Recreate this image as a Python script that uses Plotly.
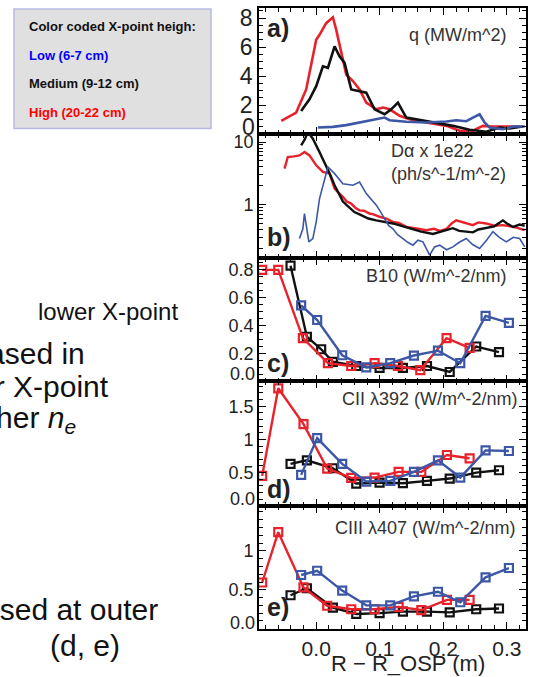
import plotly.graph_objects as go

# ---------------- data ----------------
# Panel a: q (MW/m^2)
a_red_x = [-0.055, -0.0315, -0.0158, 0.0, 0.0052, 0.0157, 0.0262, 0.0315, 0.042, 0.0472, 0.0577, 0.0682,
           0.0787, 0.0945, 0.105, 0.1155, 0.1312, 0.147, 0.1732, 0.205, 0.2255, 0.2465, 0.2622, 0.278, 0.32]
a_red_y = [0.92, 1.49, 3.08, 6.51, 6.85, 7.65, 8.06, 7.19, 5.14, 4.11, 3.66, 3.08,
           2.17, 1.71, 1.83, 1.71, 1.26, 1.03, 0.80, 0.57, 0.23, 0.23, 0.57, 0.53, 0.53]
a_blk_x = [-0.0237, -0.0106, 0.0, 0.0105, 0.0184, 0.0289, 0.0367, 0.0446, 0.0551, 0.0682, 0.0787, 0.0918,
           0.1075, 0.118, 0.1285, 0.1417, 0.1627, 0.189, 0.215, 0.2413, 0.2675, 0.2885, 0.304, 0.325]
a_blk_y = [1.60, 2.40, 3.31, 4.68, 4.57, 6.05, 5.37, 4.91, 3.08, 2.97, 2.86, 1.71,
           1.37, 1.71, 2.17, 1.14, 0.98, 0.75, 0.57, 0.30, 0.16, 0.46, 0.39, 0.53]
a_blu_x = [0.0026, 0.0262, 0.0472, 0.0682, 0.0892, 0.1075, 0.1155, 0.1417, 0.1732, 0.205, 0.2202, 0.236,
           0.2465, 0.257, 0.2648, 0.2727, 0.2937, 0.3097, 0.328]
a_blu_y = [0.46, 0.50, 0.62, 0.80, 0.96, 1.14, 0.96, 0.85, 0.80, 0.87, 0.96, 0.89,
           1.14, 1.37, 0.80, 0.46, 0.34, 0.53, 0.53]

# Panel b: D-alpha x 1e22 (ph/s^-1/m^-2)
b_red_x = [-0.0499, -0.0447, -0.035, -0.0263, -0.0185, -0.0106, 0.0, 0.0105, 0.021, 0.0289, 0.035, 0.042,
           0.048, 0.0551, 0.062, 0.0682, 0.075, 0.084, 0.090, 0.0997, 0.110, 0.1207, 0.130, 0.1417,
           0.155, 0.1732, 0.185, 0.195, 0.205, 0.213, 0.2202, 0.230, 0.2465, 0.255, 0.2675, 0.280,
           0.2937, 0.305, 0.315, 0.328]
b_red_y = [3.76, 5.77, 5.9, 6.12, 6.92, 6.12, 4.25, 3.33, 3.13, 1.80, 1.55, 1.33,
           1.12, 1.04, 0.88, 0.81, 0.80, 0.72, 0.70, 0.64, 0.60, 0.53, 0.51, 0.44,
           0.42, 0.39, 0.41, 0.38, 0.41, 0.50, 0.56, 0.52, 0.47, 0.52, 0.50, 0.46,
           0.47, 0.45, 0.43, 0.39]
b_blk_x = [-0.0237, -0.018, -0.0132, -0.0053, 0.0052, 0.0157, 0.022, 0.0289, 0.035, 0.042, 0.048, 0.0551,
           0.060, 0.0682, 0.075, 0.082, 0.0945, 0.105, 0.1207, 0.130, 0.1522, 0.165, 0.1837, 0.195,
           0.215, 0.225, 0.2465, 0.255, 0.2675, 0.280, 0.2937, 0.300, 0.3097, 0.320, 0.328]
b_blk_y = [8.85, 11.0, 14.5, 11.3, 6.9, 4.25, 3.0, 2.04, 1.5, 1.12, 0.98, 0.83,
           0.76, 0.70, 0.64, 0.60, 0.56, 0.54, 0.50, 0.47, 0.40, 0.37, 0.34, 0.37,
           0.42, 0.38, 0.36, 0.40, 0.42, 0.45, 0.56, 0.50, 0.44, 0.48, 0.46]
b_blu_x = [-0.0263, -0.021, -0.0185, -0.0148, -0.0116, -0.0053, 0.0, 0.0052, 0.0131, 0.0184, 0.0289,
           0.042, 0.0577, 0.0682, 0.0787, 0.0945, 0.1, 0.1075, 0.114, 0.1207, 0.128, 0.1364, 0.144,
           0.1522, 0.160, 0.1679, 0.1784, 0.186, 0.1942, 0.205, 0.215, 0.225, 0.236, 0.246, 0.257,
           0.268, 0.278, 0.288, 0.299, 0.310, 0.32, 0.328]
b_blu_y = [0.287, 0.41, 0.72, 0.37, 0.254, 0.287, 0.53, 1.25, 2.60, 3.99, 3.13,
           2.16, 2.04, 2.30, 1.50, 0.98, 0.80, 0.60, 0.46, 0.41, 0.33, 0.287, 0.25,
           0.225, 0.27, 0.254, 0.156, 0.21, 0.225, 0.19, 0.211, 0.25, 0.287, 0.23, 0.199,
           0.27, 0.37, 0.30, 0.254, 0.30, 0.287, 0.211]

# Panel c: B10 (W/m^-2/nm)
c_red_x = [-0.085, -0.0597, -0.021, 0.0184, 0.0551, 0.0918, 0.1285, 0.1637, 0.205, 0.2413]
c_red_y = [0.80, 0.80, 0.31, 0.13, 0.11, 0.13, 0.11, 0.08, 0.31, 0.24]
c_blk_x = [-0.0404, -0.0147, 0.0078, 0.0262, 0.063, 0.0997, 0.1364, 0.1742, 0.21, 0.2517, 0.2875]
c_blk_y = [0.83, 0.32, 0.23, 0.14, 0.11, 0.096, 0.096, 0.11, 0.067, 0.25, 0.21]
c_blu_x = [-0.0237, 0.0015, 0.0409, 0.0787, 0.1164, 0.1537, 0.1915, 0.2266, 0.2664, 0.3031]
c_blu_y = [0.545, 0.44, 0.187, 0.10, 0.13, 0.185, 0.22, 0.13, 0.47, 0.42]

# Panel d: CII 392 (W/m^-2/nm)
d_red_x = [-0.085, -0.0597, -0.02, 0.0173, 0.0551, 0.0918, 0.1296, 0.1653, 0.2056, 0.2413]
d_red_y = [0.45, 1.77, 1.23, 0.56, 0.42, 0.425, 0.51, 0.51, 0.765, 0.715]
d_blk_x = [-0.0404, -0.0147, 0.0262, 0.063, 0.0997, 0.1364, 0.1742, 0.21, 0.2517, 0.2875]
d_blk_y = [0.63, 0.685, 0.565, 0.335, 0.35, 0.34, 0.375, 0.41, 0.50, 0.535]
d_blu_x = [-0.0237, 0.0015, 0.0409, 0.0787, 0.1164, 0.1537, 0.1915, 0.2266, 0.2664, 0.3031]
d_blu_y = [0.465, 1.02, 0.63, 0.365, 0.375, 0.51, 0.685, 0.425, 0.835, 0.825]

# Panel e: CIII 407 (W/m^-2/nm)
e_red_x = [-0.085, -0.0597, -0.02, 0.0173, 0.0551, 0.0918, 0.1296, 0.1653, 0.2056, 0.2413]
e_red_y = [0.594, 1.24, 0.53, 0.295, 0.25, 0.25, 0.28, 0.24, 0.37, 0.37]
e_blk_x = [-0.0404, -0.0147, 0.0262, 0.063, 0.0997, 0.1364, 0.1742, 0.21, 0.2517, 0.2875]
e_blk_y = [0.43, 0.52, 0.27, 0.19, 0.20, 0.22, 0.22, 0.21, 0.25, 0.26]
e_blu_x = [-0.0237, 0.0015, 0.0409, 0.0787, 0.1164, 0.1537, 0.1915, 0.2266, 0.2664, 0.3031]
e_blu_y = [0.69, 0.745, 0.49, 0.30, 0.30, 0.415, 0.475, 0.34, 0.66, 0.78]

x_ticks = [0.0, 0.1, 0.2, 0.3]
panel_titles = ["q (MW/m^2)", "Dα x 1e22<br>(ph/s^-1/m^-2)", "B10 (W/m^-2/nm)",
                "CII λ392 (W/m^-2/nm)", "CIII λ407 (W/m^-2/nm)"]
panel_letters = ["a)", "b)", "c)", "d)", "e)"]

# ---------------- style ----------------
RED = "#e8222b"
BLUE = "#3b57a6"
BLACK = "#111111"
FONT = "Liberation Sans, Arial, Helvetica, sans-serif"
W, H = 535, 677

def py(pix):
    return 1 - pix / H

x_dom = [259 / W, 526 / W]
panel_pix = [(5, 131.7), (131.7, 256), (256, 380), (380, 505), (505, 628.5)]

fig = go.Figure()

def line(xs, ys, color, panel, width=2.4):
    fig.add_trace(go.Scatter(x=xs, y=ys, mode="lines", line=dict(color=color, width=width),
                             xaxis="x" if panel == 1 else f"x{panel}",
                             yaxis="y" if panel == 1 else f"y{panel}",
                             showlegend=False, hoverinfo="skip"))

def marks(xs, ys, color, panel):
    fig.add_trace(go.Scatter(x=xs, y=ys, mode="lines+markers",
                             line=dict(color=color, width=2.4),
                             marker=dict(symbol="square-open", size=8, color=color,
                                         line=dict(width=2.2, color=color)),
                             xaxis=f"x{panel}", yaxis=f"y{panel}",
                             showlegend=False, hoverinfo="skip"))

line(a_red_x, a_red_y, RED, 1, 2.6)
line(a_blk_x, a_blk_y, BLACK, 1, 2.6)
line(a_blu_x, a_blu_y, BLUE, 1, 2.6)
line(b_red_x, b_red_y, RED, 2, 2.4)
line(b_blk_x, b_blk_y, BLACK, 2, 2.4)
line(b_blu_x, b_blu_y, BLUE, 2, 1.6)
for p, (rx, ry, kx, ky, bx, by) in zip([3, 4, 5], [
        (c_red_x, c_red_y, c_blk_x, c_blk_y, c_blu_x, c_blu_y),
        (d_red_x, d_red_y, d_blk_x, d_blk_y, d_blu_x, d_blu_y),
        (e_red_x, e_red_y, e_blk_x, e_blk_y, e_blu_x, e_blu_y)]):
    marks(kx, ky, BLACK, p)
    marks(rx, ry, RED, p)
    marks(bx, by, BLUE, p)

layout = dict(width=W, height=H, margin=dict(l=0, r=0, t=0, b=0),
              paper_bgcolor="white", plot_bgcolor="white",
              font=dict(family=FONT, color="#222222"))

y_specs = [
    dict(range=[0, 8.7], tickvals=[2, 4, 6, 8], minor=dict(dtick=0.5, tick0=0), size=23, zero="0", zshift=7),
    dict(type="log", range=[-0.851, 1.127], tickvals=[1, 10], ticktext=["1", "10"],
         minor=dict(tickvals=[0.2, 0.3, 0.4, 0.5, 0.6, 0.7, 0.8, 0.9, 2, 3, 4, 5, 6, 7, 8, 9]), size=18, zero=None),
    dict(range=[0, 0.886], tickvals=[0.2, 0.4, 0.6, 0.8], minor=dict(dtick=0.05, tick0=0), size=18, zero="0.0", zshift=7),
    dict(range=[0, 1.875], tickvals=[0.5, 1.0, 1.5], minor=dict(dtick=0.1, tick0=0), size=18, zero="0.0", zshift=7),
    dict(range=[0, 1.58], tickvals=[0.5, 1.0], minor=dict(dtick=0.1, tick0=0), size=18, zero="0.0", zshift=6),
]

annotations = []
for i in range(5):
    n = i + 1
    top, bot = panel_pix[i]
    xa = dict(domain=x_dom, range=[-0.09, 0.33], anchor="y" if n == 1 else f"y{n}",
              showline=True, linecolor="black", linewidth=1.6, mirror="allticks",
              ticks="inside", ticklen=7, tickwidth=1.2, tickcolor="black",
              tickvals=x_ticks, tickformat=".1f",
              minor=dict(ticks="inside", ticklen=4, dtick=0.02, tick0=0, tickcolor="black", tickwidth=1),
              showgrid=False, zeroline=False, showticklabels=(n == 5),
              tickfont=dict(size=21, family=FONT, color="#222222"))
    if n > 1:
        xa["matches"] = "x"
    spec = y_specs[i]
    ya = dict(domain=[py(bot), py(top)], anchor="x" if n == 1 else f"x{n}",
              showline=True, linecolor="black", linewidth=1.6, mirror="allticks",
              ticks="inside", ticklen=7, tickwidth=1.2, tickcolor="black",
              showgrid=False, zeroline=False, range=spec["range"],
              tickvals=spec["tickvals"],
              tickfont=dict(size=spec["size"], family=FONT, color="#222222"))
    if "type" in spec:
        ya["type"] = "log"
    if "ticktext" in spec:
        ya["ticktext"] = spec["ticktext"]
    mn = dict(ticks="inside", ticklen=4, tickcolor="black", tickwidth=1)
    mn.update(spec["minor"])
    ya["minor"] = mn
    layout["xaxis" if n == 1 else f"xaxis{n}"] = xa
    layout["yaxis" if n == 1 else f"yaxis{n}"] = ya
    if spec["zero"]:
        annotations.append(dict(text=spec["zero"], xref="paper", yref="paper", x=257 / W,
                                y=py(bot - spec["zshift"]), xanchor="right", yanchor="middle", showarrow=False,
                                font=dict(size=spec["size"], family=FONT, color="#222222")))

# panel letters
letter_y = [25, 235, 362, 488, 607]
for lt, yy in zip(panel_letters, letter_y):
    annotations.append(dict(text=f"<b>{lt}</b>", xref="paper", yref="paper", x=265 / W, y=py(yy),
                            xanchor="left", yanchor="middle", showarrow=False,
                            font=dict(size=25, family=FONT, color="#222222")))

# panel titles
title_pos = [(508, 32), (508, 160), (508, 274), (519, 398), (517, 527)]
for t, (xx, yy) in zip(panel_titles, title_pos):
    annotations.append(dict(text=t, xref="paper", yref="paper", x=xx / W, y=py(yy),
                            xanchor="right", yanchor="middle", align="left", showarrow=False,
                            font=dict(size=18, family=FONT, color="#333333")))

# x axis title
annotations.append(dict(text="R − R_OSP (m)", xref="paper", yref="paper", x=408 / W, y=py(663),
                        xanchor="center", yanchor="middle", showarrow=False,
                        font=dict(size=22, family=FONT, color="#222222")))

# legend box text
leg = [("Color coded X-point heigh:", "#111111", 24), ("Low (6-7 cm)", "#0000ff", 53),
       ("Medium (9-12 cm)", "#111111", 81), ("High (20-22 cm)", "#ff0000", 110)]
for t, c, yy in leg:
    annotations.append(dict(text=f"<b>{t}</b>", xref="paper", yref="paper", x=27 / W, y=py(yy),
                            xanchor="left", yanchor="middle", showarrow=False,
                            font=dict(size=13, family=FONT, color=c)))

# left-hand slide text (cut off at the page edge, as in the reference)
side = [("lower X-point", 180, 310, 24), ("increased in", 87, 352, 30), ("lower X-point", 111, 385, 30),
        ("higher <i>n</i><sub><i>e</i></sub>", 78, 418, 30), ("increased at outer", 160, 609, 30),
        ("(d, e)", 122, 645, 30)]
for t, xr, yy, fs in side:
    annotations.append(dict(text=t, xref="paper", yref="paper", x=xr / W, y=py(yy),
                            xanchor="right", yanchor="middle", showarrow=False,
                            font=dict(size=fs, family=FONT, color="#111111")))

layout["annotations"] = annotations
layout["shapes"] = [dict(type="rect", xref="paper", yref="paper", x0=14 / W, x1=211 / W,
                         y0=py(126), y1=py(6), fillcolor="#e0e0e0",
                         line=dict(color="#b9b9e3", width=1.5), layer="below")]

fig.update_layout(**layout)
fig.write_html("out.html", config={"displayModeBar": False},
               post_script="document.body.style.margin='0';document.body.style.overflow='hidden';")
